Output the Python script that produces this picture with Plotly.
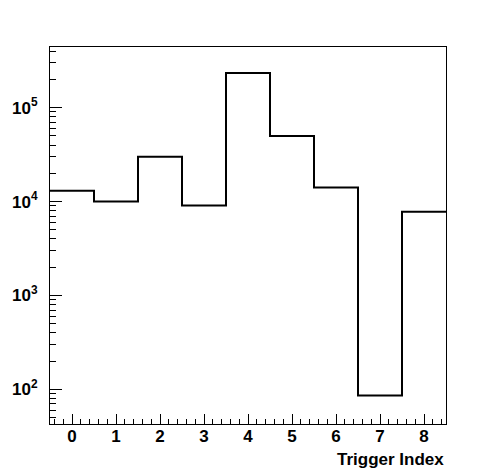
import plotly.graph_objects as go

bin_edges = [-0.5, 0.5, 1.5, 2.5, 3.5, 4.5, 5.5, 6.5, 7.5, 8.5]
counts = [13000, 10000, 30000, 9100, 234000, 50000, 14100, 86, 7800]
x_tick_vals = [0, 1, 2, 3, 4, 5, 6, 7, 8]
y_tick_vals = [1e2, 1e3, 1e4, 1e5]
y_tick_text = ["10<sup>2</sup>", "10<sup>3</sup>", "10<sup>4</sup>", "10<sup>5</sup>"]
x_title = "Trigger Index"

y_minor = [k * 10 ** d for d in range(1, 6) for k in range(2, 10)]

fig = go.Figure()
fig.add_trace(go.Scatter(
    x=bin_edges,
    y=counts + [counts[-1]],
    mode="lines",
    line=dict(shape="hv", color="black", width=2),
    hoverinfo="skip",
    showlegend=False,
))

font = dict(family="Liberation Sans", size=17, color="black")

fig.update_layout(
    width=488, height=464,
    margin=dict(l=42, r=50, t=39, b=48),
    paper_bgcolor="white", plot_bgcolor="white",
    font=font,
    xaxis=dict(
        range=[-0.5, 8.5],
        tickvals=x_tick_vals,
        ticktext=[f"<b>{v}</b>" for v in x_tick_vals],
        ticks="inside", ticklen=10, tickwidth=1, tickcolor="black",
        minor=dict(dtick=0.2, tick0=0, ticks="inside", ticklen=5, tickwidth=1, tickcolor="black"),
        showline=True, linecolor="black", linewidth=1, mirror=True,
        showgrid=False, zeroline=False,
        ticklabelstandoff=-3,
        tickfont=font,
        automargin=False,
    ),
    yaxis=dict(
        type="log",
        range=[1.631, 5.646],
        tickvals=y_tick_vals,
        ticktext=[f"<b>{t}</b>" for t in y_tick_text],
        ticks="inside", ticklen=12, tickwidth=1, tickcolor="black",
        minor=dict(tickvals=y_minor, ticks="inside", ticklen=6, tickwidth=1, tickcolor="black"),
        showline=True, linecolor="black", linewidth=1, mirror=True,
        showgrid=False, zeroline=False,
        ticklabelstandoff=8,
        tickfont=font,
        automargin=False,
    ),
    annotations=[dict(
        text=f"<b>{x_title}</b>", xref="paper", yref="paper",
        x=1, y=-0.094, xanchor="right", yanchor="middle",
        showarrow=False, font=dict(family="Liberation Sans", size=17, color="black"),
    )],
)

fig.write_html("out.html")
